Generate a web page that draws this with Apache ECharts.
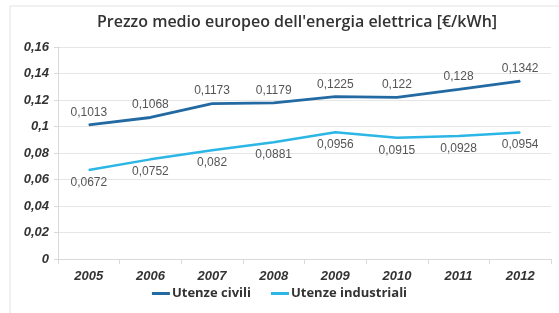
<!DOCTYPE html>
<html>
<head>
<meta charset="utf-8">
<script src="https://cdn.jsdelivr.net/npm/echarts@6/dist/echarts.min.js"></script>
<style>
  html, body { margin: 0; padding: 0; background: #fff; }
  #main { width: 559px; height: 313px; }
</style>
</head>
<body>
<div id="main"></div>
<script>
var years = ['2005', '2006', '2007', '2008', '2009', '2010', '2011', '2012'];
var civili = [0.1013, 0.1068, 0.1173, 0.1179, 0.1225, 0.122, 0.128, 0.1342];
var industriali = [0.0672, 0.0752, 0.082, 0.0881, 0.0956, 0.0915, 0.0928, 0.0954];

function comma(v) {
  return String(v).replace('.', ',');
}

var chart = echarts.init(document.getElementById('main'));

var option = {
  animation: false,
  title: {
    text: "Prezzo medio europeo dell'energia elettrica [€/kWh]",
    left: 292,
    textAlign: 'center',
    top: 9,
    textStyle: {
      fontFamily: 'Open Sans',
      fontSize: 16,
      fontWeight: 600,
      color: '#333'
    }
  },
  graphic: [{
    type: 'polyline',
    shape: { points: [[10, 313], [10, 6], [559, 6]] },
    style: { stroke: '#e2e2e2', lineWidth: 1, fill: null }
  }],
  legend: {
    bottom: 8,
    left: 'center',
    itemWidth: 18,
    itemHeight: 3,
    itemGap: 20,
    icon: 'rect',
    textStyle: {
      fontFamily: 'Open Sans',
      fontSize: 13,
      fontWeight: 700,
      color: '#333',
      padding: [0, 0, 0, -3]
    }
  },
  grid: {
    left: 58,
    right: 8,
    top: 47,
    bottom: 54
  },
  xAxis: {
    type: 'category',
    data: years,
    boundaryGap: true,
    axisLine: { lineStyle: { color: '#d9d9d9' } },
    axisTick: { show: true, lineStyle: { color: '#d9d9d9' } },
    axisLabel: {
      margin: 11,
      fontFamily: 'Liberation Sans',
      fontStyle: 'italic',
      fontWeight: 'bold',
      fontSize: 13,
      color: '#333'
    }
  },
  yAxis: {
    type: 'value',
    min: 0,
    max: 0.16,
    interval: 0.02,
    axisLine: { show: true, lineStyle: { color: '#d9d9d9' } },
    axisTick: { show: true, length: 4, lineStyle: { color: '#d9d9d9' } },
    splitLine: { lineStyle: { color: '#e6e6e6' } },
    axisLabel: {
      margin: 9,
      formatter: function (v) { return comma(Math.round(v * 100) / 100); },
      fontFamily: 'Liberation Sans',
      fontStyle: 'italic',
      fontWeight: 'bold',
      fontSize: 13,
      color: '#333'
    }
  },
  series: [{
    name: 'Utenze civili',
    type: 'line',
    data: civili,
    symbol: 'circle',
    symbolSize: 1,
    lineStyle: { width: 2.8, color: '#236aa3' },
    itemStyle: { color: '#236aa3' },
    label: {
      show: true,
      position: 'top',
      distance: 6,
      formatter: function (p) { return comma(p.value); },
      fontFamily: 'Liberation Sans',
      fontSize: 12,
      color: '#555'
    }
  }, {
    name: 'Utenze industriali',
    type: 'line',
    data: industriali,
    symbol: 'circle',
    symbolSize: 1,
    lineStyle: { width: 2.5, color: '#2cb6e6' },
    itemStyle: { color: '#2cb6e6' },
    label: {
      show: true,
      position: 'bottom',
      distance: 6,
      formatter: function (p) { return comma(p.value); },
      fontFamily: 'Liberation Sans',
      fontSize: 12,
      color: '#555'
    }
  }]
};

chart.setOption(option);
</script>
</body>
</html>
